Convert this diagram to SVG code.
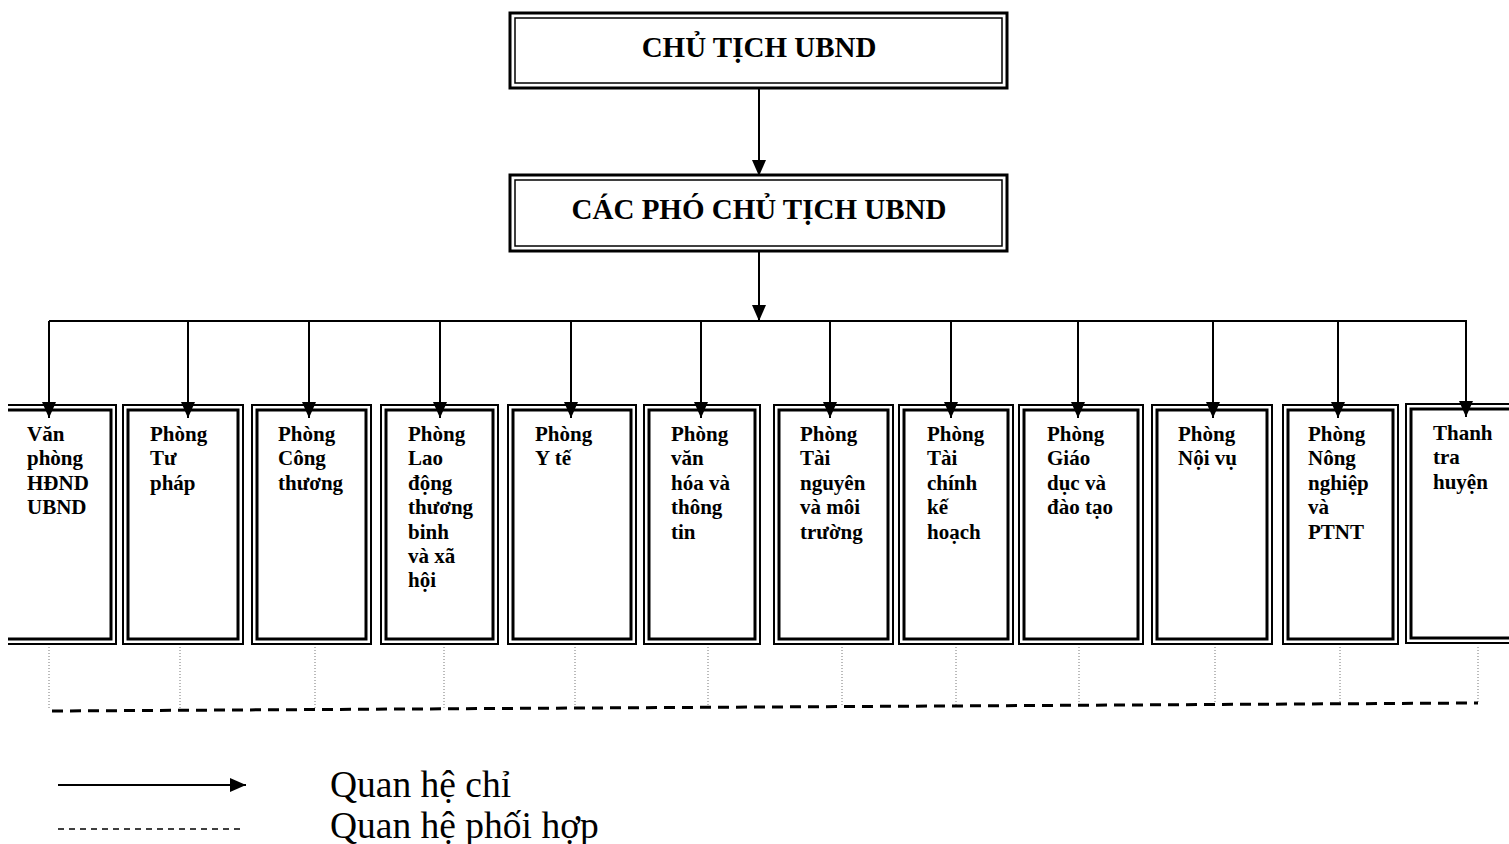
<svg xmlns="http://www.w3.org/2000/svg" width="1509" height="844" viewBox="0 0 1509 844">
<style>
.bg{fill:#fff}
.o1{fill:#fff;stroke:#000;stroke-width:3}
.i1{fill:none;stroke:#000;stroke-width:1.5}
.o2{fill:#fff;stroke:#000;stroke-width:2}
.i2{fill:none;stroke:#000;stroke-width:3}
.ht{font-family:"Liberation Serif","Times New Roman",serif;font-weight:bold;font-size:29px;fill:#000;text-anchor:middle}
.bt{font-family:"Liberation Serif","Times New Roman",serif;font-weight:bold;font-size:21px;fill:#000}
.lt{font-family:"Liberation Serif","Times New Roman",serif;font-size:37.5px;fill:#000}
.ln{stroke:#000;stroke-width:2;fill:none}
.dot{stroke:#777;stroke-width:1;stroke-dasharray:1 2;fill:none}
.dash{stroke:#000;stroke-width:3;stroke-dasharray:11 7;fill:none}
.ldash{stroke:#000;stroke-width:1.5;stroke-dasharray:6 5;fill:none}
</style>
<defs>
<marker id="ah" markerUnits="userSpaceOnUse" markerWidth="16" markerHeight="14" viewBox="0 0 16 14" refX="16" refY="7" orient="auto">
<path d="M0,0 L16,7 L0,14 z" fill="#000"/>
</marker>
<clipPath id="clipL"><rect x="8" y="0" width="300" height="844"/></clipPath>
</defs>
<rect class="bg" x="0" y="0" width="1509" height="844"/>

<g id="n-chutich">
<rect class="o1" x="510" y="13" width="497" height="75"/>
<rect class="i1" x="515" y="18" width="487" height="65"/>
<text class="ht" x="759" y="57">CHỦ TỊCH UBND</text>
</g>
<g id="n-phochutich">
<rect class="o1" x="510" y="175" width="497" height="76"/>
<rect class="i1" x="515" y="180" width="487" height="66"/>
<text class="ht" x="759" y="219">CÁC PHÓ CHỦ TỊCH UBND</text>
</g>

<g id="n-vanphong" clip-path="url(#clipL)">
<rect class="o2" x="-30" y="405" width="146" height="239"/>
<rect class="i2" x="-25" y="410" width="136" height="229"/>
<text class="bt" x="27" y="441">Văn<tspan x="27" dy="24.4">phòng</tspan><tspan x="27" dy="24.4">HĐND</tspan><tspan x="27" dy="24.4">UBND</tspan></text>
</g>
<g id="n-tuphap">
<rect class="o2" x="123" y="405" width="120" height="239"/>
<rect class="i2" x="128" y="410" width="110" height="229"/>
<text class="bt" x="150" y="441">Phòng<tspan x="150" dy="24.4">Tư</tspan><tspan x="150" dy="24.4">pháp</tspan></text>
</g>
<g id="n-congthuong">
<rect class="o2" x="252" y="405" width="119" height="239"/>
<rect class="i2" x="257" y="410" width="109" height="229"/>
<text class="bt" x="278" y="441">Phòng<tspan x="278" dy="24.4">Công</tspan><tspan x="278" dy="24.4">thương</tspan></text>
</g>
<g id="n-laodong">
<rect class="o2" x="381" y="405" width="117" height="239"/>
<rect class="i2" x="386" y="410" width="107" height="229"/>
<text class="bt" x="408" y="441">Phòng<tspan x="408" dy="24.4">Lao</tspan><tspan x="408" dy="24.4">động</tspan><tspan x="408" dy="24.4">thương</tspan><tspan x="408" dy="24.4">binh</tspan><tspan x="408" dy="24.4">và xã</tspan><tspan x="408" dy="24.4">hội</tspan></text>
</g>
<g id="n-yte">
<rect class="o2" x="508" y="405" width="128" height="239"/>
<rect class="i2" x="513" y="410" width="118" height="229"/>
<text class="bt" x="535" y="441">Phòng<tspan x="535" dy="24.4">Y tế</tspan></text>
</g>
<g id="n-vanhoa">
<rect class="o2" x="644" y="405" width="116" height="239"/>
<rect class="i2" x="649" y="410" width="106" height="229"/>
<text class="bt" x="671" y="441">Phòng<tspan x="671" dy="24.4">văn</tspan><tspan x="671" dy="24.4">hóa và</tspan><tspan x="671" dy="24.4">thông</tspan><tspan x="671" dy="24.4">tin</tspan></text>
</g>
<g id="n-tainguyen">
<rect class="o2" x="774" y="405" width="119" height="239"/>
<rect class="i2" x="779" y="410" width="109" height="229"/>
<text class="bt" x="800" y="441">Phòng<tspan x="800" dy="24.4">Tài</tspan><tspan x="800" dy="24.4">nguyên</tspan><tspan x="800" dy="24.4">và môi</tspan><tspan x="800" dy="24.4">trường</tspan></text>
</g>
<g id="n-taichinh">
<rect class="o2" x="899" y="405" width="114" height="239"/>
<rect class="i2" x="904" y="410" width="104" height="229"/>
<text class="bt" x="927" y="441">Phòng<tspan x="927" dy="24.4">Tài</tspan><tspan x="927" dy="24.4">chính</tspan><tspan x="927" dy="24.4">kế</tspan><tspan x="927" dy="24.4">hoạch</tspan></text>
</g>
<g id="n-giaoduc">
<rect class="o2" x="1019" y="405" width="124" height="239"/>
<rect class="i2" x="1024" y="410" width="114" height="229"/>
<text class="bt" x="1047" y="441">Phòng<tspan x="1047" dy="24.4">Giáo</tspan><tspan x="1047" dy="24.4">dục và</tspan><tspan x="1047" dy="24.4">đào tạo</tspan></text>
</g>
<g id="n-noivu">
<rect class="o2" x="1152" y="405" width="120" height="239"/>
<rect class="i2" x="1157" y="410" width="110" height="229"/>
<text class="bt" x="1178" y="441">Phòng<tspan x="1178" dy="24.4">Nội vụ</tspan></text>
</g>
<g id="n-nongnghiep">
<rect class="o2" x="1283" y="405" width="115" height="239"/>
<rect class="i2" x="1288" y="410" width="105" height="229"/>
<text class="bt" x="1308" y="441">Phòng<tspan x="1308" dy="24.4">Nông</tspan><tspan x="1308" dy="24.4">nghiệp</tspan><tspan x="1308" dy="24.4">và</tspan><tspan x="1308" dy="24.4">PTNT</tspan></text>
</g>
<g id="n-thanhtra">
<rect class="o2" x="1406" y="404" width="130" height="239"/>
<rect class="i2" x="1411" y="409" width="120" height="229"/>
<text class="bt" x="1433" y="440">Thanh<tspan x="1433" dy="24.4">tra</tspan><tspan x="1433" dy="24.4">huyện</tspan></text>
</g>

<g id="connectors">
<line class="ln" x1="759" y1="89" x2="759" y2="176" marker-end="url(#ah)"/>
<line class="ln" x1="759" y1="252" x2="759" y2="321" marker-end="url(#ah)"/>
<line class="ln" x1="49" y1="321" x2="1467" y2="321"/>
<line class="ln" x1="49" y1="321" x2="49" y2="418" marker-end="url(#ah)"/>
<line class="ln" x1="188" y1="321" x2="188" y2="418" marker-end="url(#ah)"/>
<line class="ln" x1="309" y1="321" x2="309" y2="418" marker-end="url(#ah)"/>
<line class="ln" x1="440" y1="321" x2="440" y2="418" marker-end="url(#ah)"/>
<line class="ln" x1="571" y1="321" x2="571" y2="418" marker-end="url(#ah)"/>
<line class="ln" x1="701" y1="321" x2="701" y2="418" marker-end="url(#ah)"/>
<line class="ln" x1="830" y1="321" x2="830" y2="418" marker-end="url(#ah)"/>
<line class="ln" x1="951" y1="321" x2="951" y2="418" marker-end="url(#ah)"/>
<line class="ln" x1="1078" y1="321" x2="1078" y2="418" marker-end="url(#ah)"/>
<line class="ln" x1="1213" y1="321" x2="1213" y2="418" marker-end="url(#ah)"/>
<line class="ln" x1="1338" y1="321" x2="1338" y2="418" marker-end="url(#ah)"/>
<line class="ln" x1="1466" y1="321" x2="1466" y2="417" marker-end="url(#ah)"/>
</g>

<g id="coordination">
<line class="dot" x1="49" y1="647" x2="49" y2="710"/>
<line class="dot" x1="180" y1="647" x2="180" y2="710"/>
<line class="dot" x1="315" y1="647" x2="315" y2="709"/>
<line class="dot" x1="444" y1="647" x2="444" y2="709"/>
<line class="dot" x1="575" y1="647" x2="575" y2="708"/>
<line class="dot" x1="708" y1="647" x2="708" y2="707"/>
<line class="dot" x1="842" y1="647" x2="842" y2="706"/>
<line class="dot" x1="956" y1="647" x2="956" y2="706"/>
<line class="dot" x1="1079" y1="647" x2="1079" y2="705"/>
<line class="dot" x1="1215" y1="647" x2="1215" y2="704"/>
<line class="dot" x1="1340" y1="647" x2="1340" y2="704"/>
<line class="dot" x1="1478" y1="647" x2="1478" y2="703"/>
<line class="dash" x1="52" y1="711" x2="1478" y2="703"/>
</g>

<g id="legend">
<line class="ln" x1="58" y1="785" x2="246" y2="785" marker-end="url(#ah)"/>
<line class="ldash" x1="58" y1="829" x2="242" y2="829"/>
<text class="lt" x="330" y="797">Quan hệ chỉ</text>
<text class="lt" x="330" y="838">Quan hệ phối hợp</text>
</g>
</svg>
